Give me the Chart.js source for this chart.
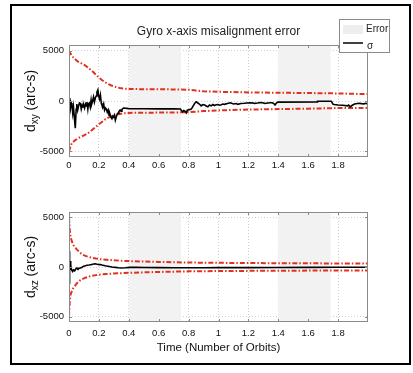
<!DOCTYPE html>
<html>
<head>
<meta charset="utf-8">
<script src="https://cdn.jsdelivr.net/npm/chart.js@4.4.1/dist/chart.umd.min.js"></script>
<style>
  html, body { margin: 0; padding: 0; background: #fff; }
  #page { position: relative; width: 413px; height: 373px; overflow: hidden; }
  #frame { position: absolute; left: 10px; top: 4px; width: 397px; height: 357px; border: 2.5px solid #000; }
  canvas { position: absolute; left: 0; }
  #cXY { top: 0; }
  #cXZ { top: 190px; }
</style>
</head>
<body>
<div id="page">
  <div id="frame"></div>
  <canvas id="cXY" width="413" height="190"></canvas>
  <canvas id="cXZ" width="413" height="183"></canvas>
</div>
<script>
// axis ticks and shaded "Error" intervals (orbits)
const xTicks = [0, 0.2, 0.4, 0.6, 0.8, 1, 1.2, 1.4, 1.6, 1.8];
const yTicks = [-5000, 0, 5000];
const errorBands = [[0.4, 0.75], [1.4, 1.75]];
const legendLabels = ['Error', 'σ'];

// d_xy : estimation error and 3-sigma bounds
const tErrXY = [0, 0.005, 0.01, 0.015, 0.02, 0.025, 0.03, 0.035, 0.042, 0.048, 0.052, 0.058, 0.064, 0.07, 0.076,
  0.082, 0.088, 0.094, 0.098, 0.104, 0.11, 0.116, 0.12, 0.126, 0.13, 0.136, 0.142, 0.148, 0.152, 0.158, 0.164,
  0.17, 0.176, 0.182, 0.187, 0.193, 0.198, 0.204, 0.21, 0.216, 0.22, 0.226, 0.232, 0.238, 0.244, 0.25, 0.256,
  0.262, 0.268, 0.274, 0.28, 0.287, 0.293, 0.298, 0.304, 0.31, 0.316, 0.322, 0.328, 0.334, 0.342, 0.348, 0.354,
  0.36, 0.366, 0.4, 0.5, 0.6, 0.7, 0.745, 0.75, 0.76, 0.768, 0.775, 0.784, 0.792, 0.8, 0.818, 0.83, 0.84, 0.851,
  0.862, 0.872, 0.884, 0.895, 0.907, 0.918, 0.929, 0.94, 0.951, 0.962, 0.973, 0.985, 0.996, 1.007, 1.018, 1.03,
  1.04, 1.06, 1.08, 1.1, 1.12, 1.129, 1.15, 1.173, 1.19, 1.218, 1.24, 1.262, 1.28, 1.296, 1.31, 1.329, 1.345,
  1.36, 1.37, 1.378, 1.388, 1.396, 1.66, 1.662, 1.755, 1.765, 1.773, 1.8, 1.83, 1.862, 1.87, 1.88, 1.895, 1.91,
  1.94, 1.955, 1.973, 1.985, 2.0];
const errXY = [-80, 300, -700, -200, -400, -1200, -600, -1500, -2700, -800, -300, -900, -500, -200, -250,
  -800, -400, -600, -400, -700, -300, -500, -100, -800, -300, -200, -600, 100, -300, 0, 400,
  -100, 300, 500, 900, 1100, 500, 200, 600, -200, -400, -600, -300, -900, -700, -800, -1100,
  -900, -1400, -1300, -1600, -1750, -1500, -1600, -1400, -1900, -1600, -1300, -1200, -1050, -900, -1000, -850,
  -750, -700, -760, -770, -780, -780, -790, -900, -1080, -950, -1000, -1180, -900, -880, -800, -500, -250, -80,
  -200, -300, -480, -350, -400, -500, -580, -400, -480, -350, -450, -380, -350, -420, -380, -300,
  -330, -250, -180, -300, -250, -330, -250, -230, -200, -180, -230, -200, -150, -170, -250, -200, -180,
  -170, -250, -400, -200, -110, -100, -20, -20, -300, -350, -400, -420, -480, -400, -580, -420, -300,
  -220, -260, -280, -230, -320];
const tBndXY = [0, 0.01, 0.02, 0.04, 0.06, 0.08, 0.1, 0.12, 0.14, 0.16, 0.18, 0.2, 0.22, 0.24, 0.26, 0.28,
  0.3, 0.32, 0.34, 0.36, 0.38, 0.4, 0.5, 0.6, 0.7, 0.8, 0.85, 0.9, 1.0, 1.2, 1.4, 1.6, 1.8, 2.0];
const upXY = [5000, 4700, 4450, 4150, 3900, 3760, 3600, 3400, 3150, 2900, 2600, 2330, 2080, 1870, 1700, 1560,
  1450, 1360, 1290, 1240, 1210, 1190, 1170, 1160, 1150, 1120, 1030, 960, 910, 850, 820, 790, 750, 680];
const loXY = [-5000, -4500, -4150, -3900, -3700, -3550, -3400, -3250, -3050, -2800, -2550, -2300, -2080, -1850,
  -1680, -1530, -1430, -1350, -1280, -1240, -1200, -1180, -1160, -1150, -1140, -1110, -1050, -1000, -930, -850,
  -800, -760, -700, -680];

// d_xz : estimation error and 3-sigma bounds
const tErrXZ = [0, 0.002, 0.004, 0.006, 0.008, 0.01, 0.013, 0.016, 0.02, 0.024, 0.03, 0.038, 0.045, 0.053, 0.06,
  0.065, 0.075, 0.085, 0.098, 0.11, 0.12, 0.135, 0.153, 0.165, 0.176, 0.188, 0.198, 0.21, 0.22, 0.242, 0.26,
  0.287, 0.31, 0.331, 0.35, 0.376, 0.41, 0.45, 0.5, 0.6, 0.7, 0.8, 0.9, 1.0, 1.2, 1.4, 1.6, 1.8, 2.0];
const errXZ = [1600, -1700, 900, -400, 600, -300, 200, -250, -350, -450, -300, -380, -200, -100, -250,
  -150, -100, -50, 80, 130, 180, 200, 260, 300, 320, 280, 260, 240, 200, 120, 80,
  0, -40, -80, -100, -80, -40, -20, -50, -60, -70, -80, -70, -60, -60, -50, -40, -30, -20];
const tBndXZ = [0, 0.004, 0.008, 0.012, 0.02, 0.03, 0.042, 0.055, 0.07, 0.087, 0.11, 0.13, 0.155, 0.18, 0.21,
  0.25, 0.3, 0.35, 0.41, 0.5, 0.6, 0.7, 0.8, 1.0, 1.2, 1.4, 1.6, 1.8, 2.0];
const upXZ = [5000, 3900, 3300, 2950, 2550, 2200, 1950, 1730, 1500, 1280, 1120, 1020, 930, 860, 790,
  730, 670, 630, 590, 550, 510, 480, 450, 420, 400, 380, 370, 360, 350];
const loXZ = [-5000, -3700, -3000, -2700, -2400, -2100, -1850, -1600, -1400, -1230, -1080, -980, -880, -820, -760,
  -710, -650, -620, -580, -540, -500, -470, -440, -410, -390, -375, -365, -355, -345];

const FONT = '"Liberation Sans", Arial, sans-serif';
const RED = '#e2301f';

const zip = (t, v) => t.map((x, i) => ({ x, y: v[i] }));

// matlab-like decorations: shaded bands, box, inward ticks, y label, title, legend
const matlabFrame = {
  id: 'matlabFrame',
  beforeDatasetsDraw(chart) {
    const { ctx, chartArea: a, scales: { x } } = chart;
    ctx.save();
    ctx.fillStyle = '#f2f2f2';
    errorBands.forEach(([s, e]) => {
      const x0 = x.getPixelForValue(s), x1 = x.getPixelForValue(e);
      ctx.fillRect(x0, a.top, x1 - x0, a.bottom - a.top);
    });
    ctx.restore();
  },
  afterDatasetsDraw(chart, args, o) {
    const { ctx, chartArea: a, scales: { x, y } } = chart;
    ctx.save();
    // box
    ctx.strokeStyle = '#8a8a8a';
    ctx.lineWidth = 1;
    ctx.strokeRect(Math.round(a.left) + 0.5, Math.round(a.top) + 0.5,
      Math.round(a.right - a.left) - 1, Math.round(a.bottom - a.top) - 1);
    ctx.beginPath();
    xTicks.forEach(v => {
      const px = Math.round(x.getPixelForValue(v)) + 0.5;
      ctx.moveTo(px, a.bottom); ctx.lineTo(px, a.bottom - 3);
      ctx.moveTo(px, a.top); ctx.lineTo(px, a.top + 3);
    });
    yTicks.forEach(v => {
      const py = Math.round(y.getPixelForValue(v)) + 0.5;
      ctx.moveTo(a.left, py); ctx.lineTo(a.left + 3, py);
      ctx.moveTo(a.right, py); ctx.lineTo(a.right - 3, py);
    });
    ctx.stroke();

    // y label with subscript
    ctx.fillStyle = '#111';
    ctx.translate(o.labelX, (a.top + a.bottom) / 2);
    ctx.rotate(-Math.PI / 2);
    const big = '14px ' + FONT, small = '10px ' + FONT;
    ctx.font = big; const wD = ctx.measureText('d').width, wR = ctx.measureText(' (arc-s)').width;
    ctx.font = small; const wS = ctx.measureText(o.sub).width;
    let sx = -(wD + wS + wR) / 2;
    ctx.textBaseline = 'alphabetic';
    ctx.textAlign = 'left';
    ctx.font = big; ctx.fillText('d', sx, 0);
    ctx.font = small; ctx.fillText(o.sub, sx + wD, 3);
    ctx.font = big; ctx.fillText(' (arc-s)', sx + wD + wS, 0);
    ctx.setTransform(1, 0, 0, 1, 0, 0);

    if (o.title) {
      ctx.font = '12px ' + FONT;
      ctx.textAlign = 'center';
      ctx.textBaseline = 'middle';
      ctx.fillStyle = '#222';
      ctx.fillText(o.title, (a.left + a.right) / 2, 32);
    }
    if (o.legend) {
      const lx = 339, ly = 19, lw = 50, lh = 33;
      ctx.fillStyle = '#fff';
      ctx.fillRect(lx, ly, lw, lh);
      ctx.strokeStyle = '#8a8a8a';
      ctx.strokeRect(lx + 0.5, ly + 0.5, lw, lh);
      ctx.fillStyle = '#eeeeee';
      ctx.fillRect(lx + 4, ly + 6, 20, 9);
      ctx.strokeStyle = '#000';
      ctx.lineWidth = 1.5;
      ctx.beginPath();
      ctx.moveTo(lx + 4, ly + 24); ctx.lineTo(lx + 24, ly + 24);
      ctx.stroke();
      ctx.fillStyle = '#222';
      ctx.font = '10px ' + FONT;
      ctx.textAlign = 'left';
      ctx.textBaseline = 'middle';
      ctx.fillText(legendLabels[0], lx + 27, ly + 10);
      ctx.fillText(legendLabels[1], lx + 28, ly + 27);
    }
    ctx.restore();
  }
};

function buildChart(id, p) {
  return new Chart(document.getElementById(id), {
    type: 'line',
    data: {
      datasets: [
        { label: 'error', data: zip(p.tErr, p.err), borderColor: '#000', borderWidth: 1.6, pointRadius: 0, tension: 0 },
        { label: '+3σ', data: zip(p.tBnd, p.up), borderColor: RED, borderWidth: 2, borderDash: [5, 2, 1.5, 2], pointRadius: 0 },
        { label: '-3σ', data: zip(p.tBnd, p.lo), borderColor: RED, borderWidth: 2, borderDash: [5, 2, 1.5, 2], pointRadius: 0 }
      ]
    },
    options: {
      responsive: false,
      animation: false,
      events: [],
      layout: { padding: { left: 0, right: 45, top: p.padTop, bottom: 0 } },
      plugins: {
        legend: { display: false },
        tooltip: { enabled: false },
        matlabFrame: { sub: p.sub, labelX: 35, title: p.title, legend: p.legend }
      },
      scales: {
        x: {
          type: 'linear', min: 0, max: 2,
          afterBuildTicks: s => { s.ticks = xTicks.map(v => ({ value: v })); },
          afterFit: s => { s.height = p.xH; },
          grid: { color: '#cfcfcf', drawTicks: false },
          border: { display: false, dash: [1, 2] },
          ticks: { padding: p.xPad, color: '#111', font: { family: FONT, size: 9.5 }, maxRotation: 0,
            callback: v => String(+v.toFixed(1)) },
          title: p.xTitle ? { display: true, text: p.xTitle, color: '#111', font: { family: FONT, size: 11.5 },
            padding: { top: 0, bottom: p.xTitlePad } } : { display: false }
        },
        y: {
          min: -5550, max: 5550,
          afterBuildTicks: s => { s.ticks = yTicks.map(v => ({ value: v })); },
          afterFit: s => { s.width = 69; },
          grid: { color: '#cfcfcf', drawTicks: false },
          border: { display: false, dash: [1, 2] },
          ticks: { padding: 5, color: '#111', font: { family: FONT, size: 9.5 }, callback: v => String(v) }
        }
      }
    },
    plugins: [matlabFrame]
  });
}

buildChart('cXY', { tErr: tErrXY, err: errXY, tBnd: tBndXY, up: upXY, lo: loXY, sub: 'xy',
  padTop: 45, xH: 33, xPad: 3, title: 'Gyro x-axis misalignment error', legend: true });
buildChart('cXZ', { tErr: tErrXZ, err: errXZ, tBnd: tBndXZ, up: upXZ, lo: loXZ, sub: 'xz',
  padTop: 22, xH: 51, xPad: 6, xTitle: 'Time (Number of Orbits)', xTitlePad: 18 });
</script>
</body>
</html>
